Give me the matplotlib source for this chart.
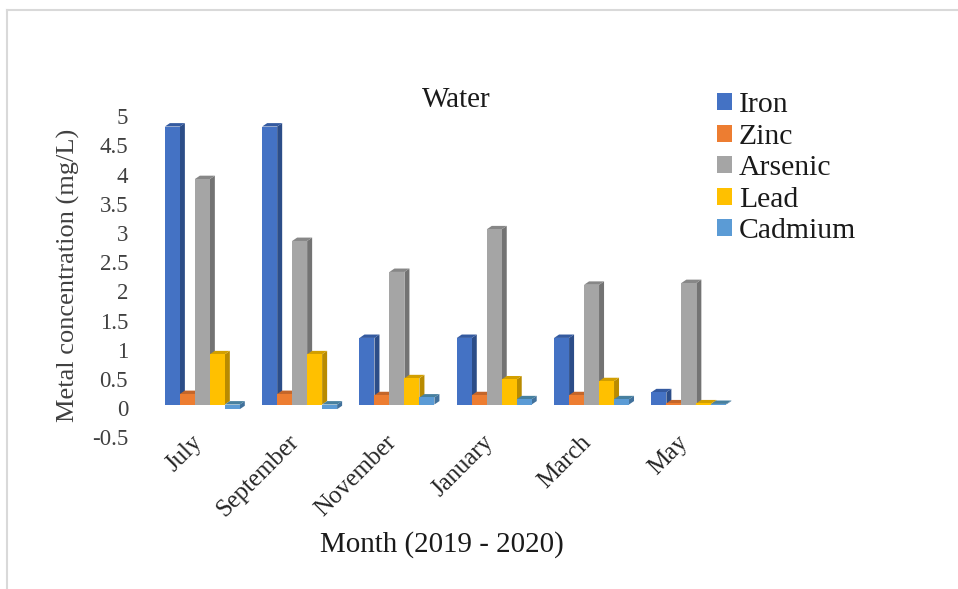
import matplotlib
matplotlib.use('Agg')
import matplotlib.pyplot as plt
import matplotlib.transforms as mtransforms
from matplotlib.lines import Line2D
from matplotlib.patches import Patch, Polygon

plt.rcParams['font.family'] = ['Liberation Serif', 'DejaVu Serif']

months = ['July', 'September', 'November', 'January', 'March', 'May']
iron = [4.76, 4.76, 1.14, 1.14, 1.14, 0.21]
zinc = [0.18, 0.18, 0.16, 0.16, 0.16, 0.02]
arsenic = [3.86, 2.80, 2.27, 3.00, 2.05, 2.08]
lead = [0.86, 0.86, 0.45, 0.43, 0.40, 0.02]
cadmium = [-0.08, -0.08, 0.12, 0.09, 0.09, 0.01]

names = ['Iron', 'Zinc', 'Arsenic', 'Lead', 'Cadmium']
series = [iron, zinc, arsenic, lead, cadmium]
front_colors = ['#4472C4', '#ED7D31', '#A5A5A5', '#FFC000', '#5B9BD5']
side_colors = ['#2C4D88', '#AD5B23', '#737373', '#B98B00', '#41719C']
top_colors = ['#345AA0', '#C4662A', '#878787', '#D29F00', '#47809F']

W, H = 958, 589
fig = plt.figure(figsize=(W / 100, H / 100), dpi=100)

# axes box in pixels, y runs from -0.5 to 5
left, right = 153.7, 737.5
top, bottom = 112.5, 433.7
ax = fig.add_axes([left / W, 1 - bottom / H, (right - left) / W, (bottom - top) / H])
ax.set_xlim(-0.5, 5.5)
ax.set_ylim(-0.5, 5)

bar_w = 0.154
depth_x = 5 / 97.3
depth_y = 3.4 / 58.4

for j, vals in enumerate(series):
    for i, v in enumerate(vals):
        x0 = i + (j - 2.5) * bar_w
        x1 = x0 + bar_w
        hi = max(v, 0)
        lo = min(v, 0)
        ax.add_patch(Polygon([(x1, lo), (x1 + depth_x, lo + depth_y),
                              (x1 + depth_x, hi + depth_y), (x1, hi)],
                             fc=side_colors[j], ec='none', zorder=2 + j))
        ax.add_patch(Polygon([(x0, hi), (x0 + depth_x, hi + depth_y),
                              (x1 + depth_x, hi + depth_y), (x1, hi)],
                             fc=top_colors[j], ec='none', zorder=2 + j))
        ax.bar(x0, v, width=bar_w, align='edge', color=front_colors[j], zorder=2 + j)

for s in ax.spines.values():
    s.set_visible(False)
ax.tick_params(length=0)

yticks = [-0.5, 0, 0.5, 1, 1.5, 2, 2.5, 3, 3.5, 4, 4.5, 5]
ax.set_yticks(yticks)
ax.set_yticklabels(['-0.5', '0', '0.5', '1', '1.5', '2', '2.5', '3', '3.5', '4', '4.5', '5'],
                   fontsize=16.5, color='#404040')
ax.tick_params(axis='y', pad=18.5)
shift = mtransforms.ScaledTranslation(0, -3.7 / 100, fig.dpi_scale_trans)
for lab in ax.get_yticklabels():
    lab.set_transform(lab.get_transform() + shift)

ax.set_xticks(range(6))
ax.set_xticklabels(months, fontsize=17.8, color='#262626', rotation=45,
                   ha='right', va='top', rotation_mode='anchor')
ax.tick_params(axis='x', pad=2)
xshift = mtransforms.ScaledTranslation(-11.5 / 100, 5.5 / 100, fig.dpi_scale_trans)
for lab in ax.get_xticklabels():
    lab.set_transform(lab.get_transform() + xshift)

fig.text(456 / W, 1 - 100 / H, 'Water', fontsize=21, color='#1a1a1a', ha='center', va='center')
fig.text(441.5 / W, 1 - 545 / H, 'Month (2019 - 2020)', fontsize=20.9, color='#1a1a1a',
         ha='center', va='center')
fig.text(68.5 / W, 1 - 275.5 / H, 'Metal concentration (mg/L)', fontsize=19, color='#404040',
         rotation=90, ha='center', va='center')

handles = [Patch(fc=c, ec='none') for c in front_colors]
fig.legend(handles, names, loc='upper left', bbox_to_anchor=(717 / W, 1 - 92.5 / H),
           frameon=False, fontsize=21.4, handlelength=0.5, handleheight=0.5,
           handletextpad=0.24, labelspacing=0.185, labelcolor='#1a1a1a',
           borderpad=0, borderaxespad=0)

# thin frame along the top and left edges
fig.add_artist(Line2D([7 / W, 1], [1 - 10 / H, 1 - 10 / H], color='#d9d9d9', lw=1.5))
fig.add_artist(Line2D([7 / W, 7 / W], [1 - 10 / H, 0], color='#d9d9d9', lw=1.5))

fig.savefig('out.png', dpi=100)
